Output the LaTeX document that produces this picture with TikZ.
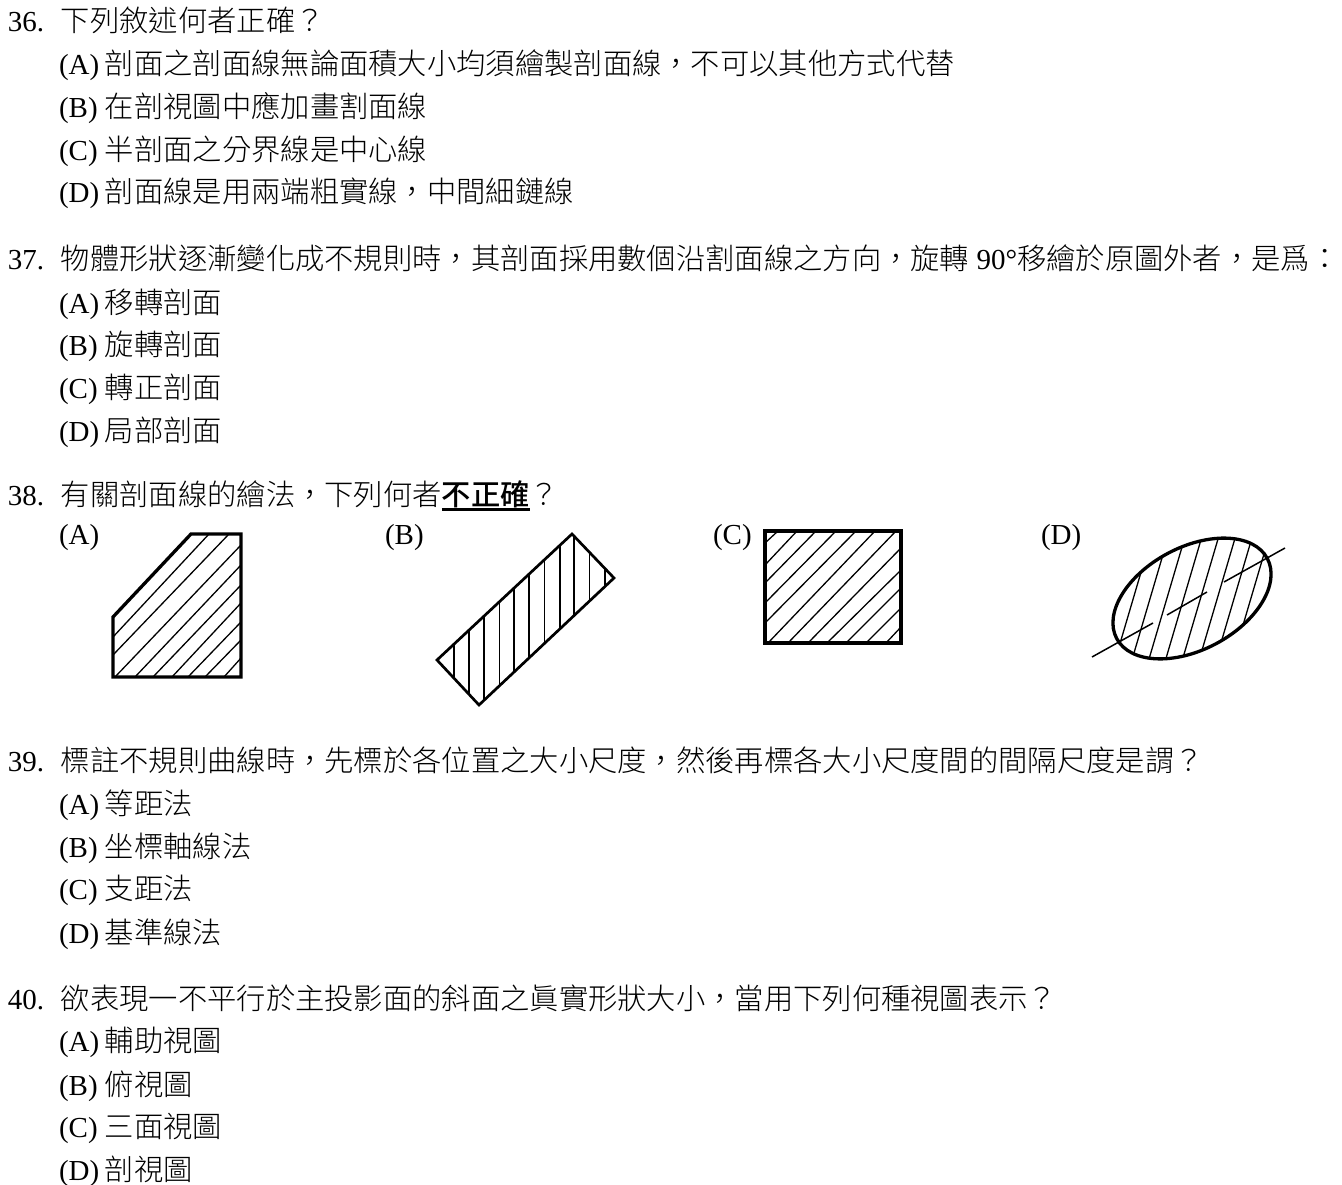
\documentclass[tikz,border=0pt]{standalone}
\usepackage{fontspec}
\setmainfont{Liberation Serif}
\newfontfamily\cjkfam[UprightFont=* Light,BoldFont=* Medium]{Noto Sans CJK TC}
\newcommand\CJ[1]{{\cjkfam\fontsize{29.3}{32}\selectfont #1}}
\newcommand\CB[1]{{\cjkfam\bfseries\fontsize{29.3}{32}\selectfont #1}}
\newcommand\Ln[1]{{\fontsize{29}{32}\selectfont #1}}
\newcommand\Qn[2]{\makebox[53pt][l]{\Ln{#1}}\CJ{#2}}
\newcommand\Op[2]{\makebox[46pt][l]{\Ln{(#1)}}\CJ{#2}}
\tikzset{
  x=1pt,y=-1pt,
  qline/.style={anchor=base west,inner sep=0pt,outer sep=0pt,text=black},
  outline/.style={draw=black,line width=3.3pt,line join=miter},
  hatch/.style={draw=black,line width=1.3pt},
  center line/.style={draw=black,line width=1.5pt},
}
\begin{document}
\begin{tikzpicture}
\useasboundingbox[fill=white] (0,0) rectangle (1342,1185);
% question 36
\node[qline] (q36) at (8,32) {\Qn{36.}{下列敘述何者正確？}};
\node[qline] (q36a) at (59,75) {\Op{A}{剖面之剖面線無論面積大小均須繪製剖面線，不可以其他方式代替}};
\node[qline] (q36b) at (59,118) {\Op{B}{在剖視圖中應加畫割面線}};
\node[qline] (q36c) at (59,161) {\Op{C}{半剖面之分界線是中心線}};
\node[qline] (q36d) at (59,203) {\Op{D}{剖面線是用兩端粗實線，中間細鏈線}};
% question 37
\node[qline] (q37) at (8,270) {\Qn{37.}{物體形狀逐漸變化成不規則時，其剖面採用數個沿割面線之方向，旋轉}\Ln{ 90°}\CJ{移繪於原圖外者，是爲：}};
\node[qline] (q37a) at (59,313) {\Op{A}{移轉剖面}};
\node[qline] (q37b) at (59,355) {\Op{B}{旋轉剖面}};
\node[qline] (q37c) at (59,398) {\Op{C}{轉正剖面}};
\node[qline] (q37d) at (59,441) {\Op{D}{局部剖面}};
% question 38
\node[qline] (q38) at (8,505) {\Qn{38.}{有關剖面線的繪法，下列何者}\rlap{\rule[-6pt]{88pt}{2.6pt}}\CB{不正確}\CJ{？}};
\node[qline] (q38a) at (59,544) {\Ln{(A)}};
\node[qline] (q38b) at (385,544) {\Ln{(B)}};
\node[qline] (q38c) at (713,544) {\Ln{(C)}};
\node[qline] (q38d) at (1041,544) {\Ln{(D)}};
% figure A
\begin{scope}
\draw[hatch] (113,637)--(209,534) (113,655)--(229,534)
  (115,677)--(241,545) (135,677)--(241,565) (153,677)--(241,585)
  (172,677)--(241,603) (188,677)--(241,622) (205,677)--(241,640) (224,677)--(241,658);
\draw[outline] (113,617)--(191,534)--(241,534)--(241,677)--(113,677)--cycle;
\end{scope}
% figure B
\begin{scope}
\clip (572,534)--(614,578)--(479,705)--(437,660)--cycle;
\foreach \xv in {454,469,484,499.5,514,529,544.5,560,574,589.5,605}
  \draw[hatch,line width=1.5pt] (\xv,530)--(\xv,710);
\end{scope}
\draw[outline,line width=2.7pt] (572,534)--(614,578)--(479,705)--(437,660)--cycle;
% figure C
\draw[hatch] (765,543)--(778,531) (765,565)--(797,531) (765,583)--(816,531)
  (765,603)--(836,531) (765,623)--(856,531) (768,643)--(875,531) (788,643)--(896,531)
  (808,643)--(901,548) (827,643)--(901,570) (846,643)--(901,588) (866,643)--(901,608) (886,643)--(901,627);
\draw[outline] (765,531) rectangle (901,643);
% figure D
\begin{scope}
\clip (1192,598.5) ellipse[x radius=85.3,y radius=51.2,rotate=28];
\foreach \iv in {0,...,8}
  \draw[hatch] ({1116+16.8*\iv},657)--({1116+16.8*\iv+40},{657-135.6});
\end{scope}
\draw[center line] (1092,657)--(1153,623) (1167,615)--(1207,592) (1224,582)--(1285,548);
\draw[outline] (1192,598.5) ellipse[x radius=85.3,y radius=51.2,rotate=28];
% question 39
\node[qline] (q39) at (8,771) {\Qn{39.}{標註不規則曲線時，先標於各位置之大小尺度，然後再標各大小尺度間的間隔尺度是謂？}};
\node[qline] (q39a) at (59,814) {\Op{A}{等距法}};
\node[qline] (q39b) at (59,857) {\Op{B}{坐標軸線法}};
\node[qline] (q39c) at (59,899) {\Op{C}{支距法}};
\node[qline] (q39d) at (59,943) {\Op{D}{基準線法}};
% question 40
\node[qline] (q40) at (8,1009) {\Qn{40.}{欲表現一不平行於主投影面的斜面之眞實形狀大小，當用下列何種視圖表示？}};
\node[qline] (q40a) at (59,1051) {\Op{A}{輔助視圖}};
\node[qline] (q40b) at (59,1095) {\Op{B}{俯視圖}};
\node[qline] (q40c) at (59,1137) {\Op{C}{三面視圖}};
\node[qline] (q40d) at (59,1180) {\Op{D}{剖視圖}};
\end{tikzpicture}
\end{document}
